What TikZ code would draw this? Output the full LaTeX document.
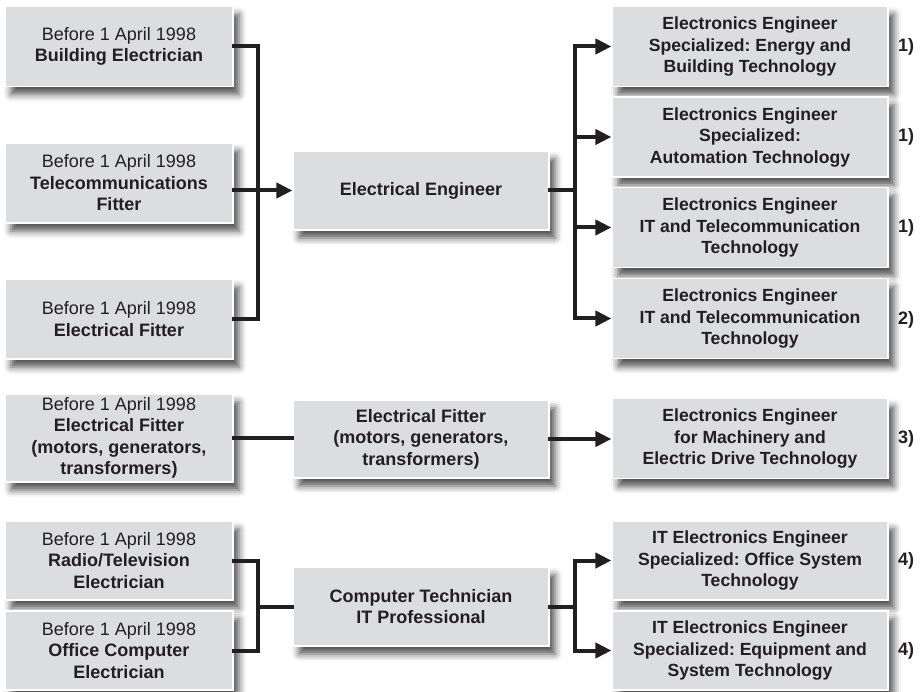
\documentclass[tikz,border=0pt]{standalone}
\usepackage{fontspec}
\setmainfont{Liberation Sans}
\usepackage{tikz}
\usetikzlibrary{arrows.meta}
\usetikzlibrary{shadows.blur}
\definecolor{boxgray}{RGB}{220,221,223}
\definecolor{inkblack}{RGB}{35,31,32}
\frenchspacing

\begin{document}
\begin{tikzpicture}[x=1pt,y=-1pt,
  box/.style={fill=boxgray,draw=white,line width=1.2pt,inner sep=0pt,align=center,
    text=inkblack,font=\fontsize{18}{21.5}\selectfont,
    blur shadow={shadow xshift=6pt,shadow yshift=-8pt,shadow blur radius=7pt,shadow opacity=68}},
  oldbox/.style={box,minimum width=228pt,minimum height=80pt},
  midbox/.style={box,minimum width=256pt,minimum height=79pt,font=\bfseries\fontsize{18}{21.5}\selectfont},
  newbox/.style={box,minimum width=276pt,minimum height=80pt,font=\bfseries\fontsize{17.6}{21.5}\selectfont},
  link/.style={draw=inkblack,line width=4pt,line cap=rect},
  feed/.style={link,-{Triangle[length=16pt,width=15pt]}},
  note/.style={text=inkblack,font=\bfseries\fontsize{18}{20}\selectfont}]
 \useasboundingbox (0,0) rectangle (923,692);

 \node[oldbox] (bldg) at (119,46.5) {Before 1 April 1998\\\textbf{Building Electrician}};
 \node[oldbox] (tele) at (119,183) {Before 1 April 1998\\\textbf{Telecommunications}\\\textbf{Fitter}};
 \node[oldbox] (efit) at (119,319) {Before 1 April 1998\\\textbf{Electrical Fitter}};
 \node[oldbox,minimum height=88pt] (motor) at (119,438) {Before 1 April 1998\\\textbf{Electrical Fitter}\\\textbf{(motors, generators,}\\\textbf{transformers)}};
 \node[oldbox,minimum height=79pt] (radio) at (119,560.5) {Before 1 April 1998\\\textbf{Radio/Television}\\\textbf{Electrician}};
 \node[oldbox,minimum height=79pt] (office) at (119,650.5) {Before 1 April 1998\\\textbf{Office Computer}\\\textbf{Electrician}};

 \node[midbox] (eeng) at (421,190.5) {Electrical Engineer};
 \node[midbox,minimum height=78pt] (efmid) at (421,439) {Electrical Fitter\\(motors, generators,\\transformers)};
 \node[midbox] (comp) at (421,606.5) {Computer Technician\\IT Professional};

 \node[newbox] (r1) at (750,46.5) {Electronics Engineer\\Specialized: Energy and\\Building Technology};
 \node[newbox] (r2) at (750,137) {Electronics Engineer\\Specialized:\\Automation Technology};
 \node[newbox] (r3) at (750,227.5) {Electronics Engineer\\IT and Telecommunication\\Technology};
 \node[newbox] (r4) at (750,318.5) {Electronics Engineer\\IT and Telecommunication\\Technology};
 \node[newbox] (r5) at (750,438.5) {Electronics Engineer\\for Machinery and\\Electric Drive Technology};
 \node[newbox,minimum height=79pt] (r6) at (750,560.5) {IT Electronics Engineer\\Specialized: Office System\\Technology};
 \node[newbox,minimum height=79pt] (r7) at (750,650.5) {IT Electronics Engineer\\Specialized: Equipment and\\System Technology};

 \node[note] (n1) at (906,46.5) {1)};
 \node[note] (n2) at (906,137) {1)};
 \node[note] (n3) at (906,227.5) {1)};
 \node[note] (n4) at (906,320) {2)};
 \node[note] (n5) at (906,438.5) {3)};
 \node[note] (n6) at (906,560.5) {4)};
 \node[note] (n7) at (906,650.5) {4)};

 \coordinate (busA) at (258,0);
 \coordinate (busB) at (575,0);
 \draw[link] (bldg.east) -| (busA |- efit.east) -- (efit.east);
 \draw[feed] (tele.east |- eeng.west) -- (eeng.west);
 \draw[link] (eeng.east) -- (eeng.east -| busB);
 \draw[feed] (eeng.east -| busB) |- (r1.west);
 \draw[feed] (eeng.east -| busB) |- (r4.west);
 \draw[feed] (busB |- r2.west) -- (r2.west);
 \draw[feed] (busB |- r3.west) -- (r3.west);

 \draw[link] (motor.east) -- (motor.east -| efmid.west);
 \draw[feed] (efmid.east) -- (efmid.east -| r5.west);

 \draw[link] (radio.east) -| (busA |- office.east) -- (office.east);
 \draw[link] (busA |- comp.west) -- (comp.west);
 \draw[link] (comp.east) -- (comp.east -| busB);
 \draw[feed] (comp.east -| busB) |- (r6.west);
 \draw[feed] (comp.east -| busB) |- (r7.west);
\end{tikzpicture}
\end{document}
